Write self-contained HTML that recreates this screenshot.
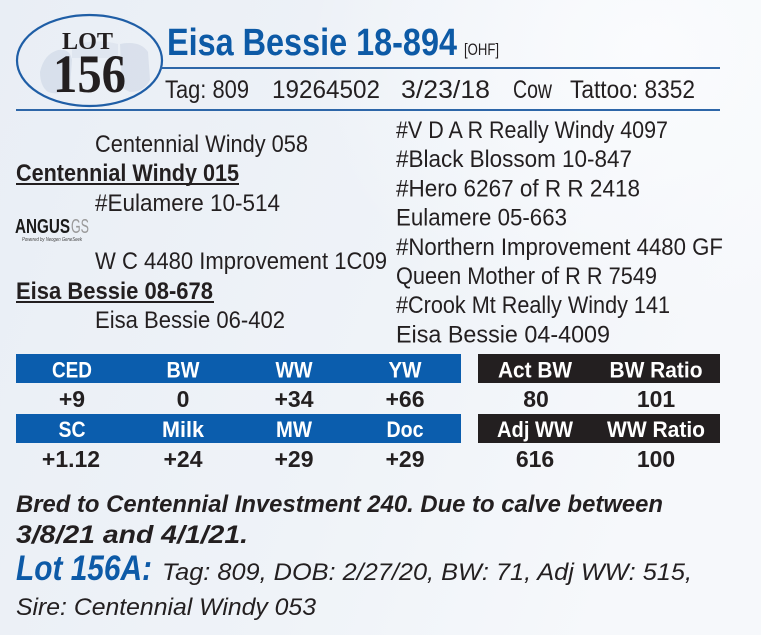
<!DOCTYPE html>
<html><head><meta charset="utf-8"><style>
html,body{margin:0;padding:0;width:761px;height:635px;overflow:hidden;background:#eef2f7}
svg{display:block}
</style></head><body>
<svg width="761" height="635" viewBox="0 0 761 635" xmlns="http://www.w3.org/2000/svg">
<defs>
<linearGradient id="bg" x1="0" y1="0" x2="1" y2="0.3">
<stop offset="0" stop-color="#e9eef5"/>
<stop offset="0.6" stop-color="#eff3f8"/>
<stop offset="1" stop-color="#f6f8fb"/>
</linearGradient>
<radialGradient id="glow" cx="0.85" cy="0.08" r="0.45">
<stop offset="0" stop-color="#fbfcfe" stop-opacity="0.9"/>
<stop offset="1" stop-color="#fbfcfe" stop-opacity="0"/>
</radialGradient>
</defs>
<rect width="761" height="635" fill="url(#bg)"/>
<rect width="761" height="635" fill="url(#glow)"/>

<!-- Oval with faint illustration -->
<g fill="#b9c6da" opacity="0.35">
<path d="M40 72 Q44 54 58 50 Q70 48 72 60 L70 88 Q60 96 48 92 Q40 86 40 72Z"/>
<path d="M120 44 Q140 40 148 52 L150 80 Q144 92 130 92 L122 88Z"/>
<path d="M72 46 Q95 38 118 44 L118 58 L72 58Z" opacity="0.6"/>
</g>
<ellipse cx="89.5" cy="60.5" rx="72.5" ry="45.5" fill="none" stroke="#1f5ea6" stroke-width="2.2"/>
<g font-family="'Liberation Serif', serif" font-weight="bold" fill="#231f20">
<text x="62" y="49" font-size="24" textLength="51" lengthAdjust="spacingAndGlyphs">LOT</text>
<text x="53" y="92" font-size="54" textLength="73" lengthAdjust="spacingAndGlyphs">156</text>
</g>

<g font-family="'Liberation Sans', sans-serif">
<text x="167" y="55" font-size="38" font-weight="bold" fill="#0d5aa6" textLength="290" lengthAdjust="spacingAndGlyphs">Eisa Bessie 18-894</text>
<text x="464" y="55" font-size="17" fill="#231f20" textLength="35" lengthAdjust="spacingAndGlyphs">[OHF]</text>
</g>
<line x1="160" y1="68" x2="720" y2="68" stroke="#2d66a8" stroke-width="2"/>
<g font-family="'Liberation Sans', sans-serif" font-size="25" fill="#231f20">
<text x="165" y="98" textLength="84" lengthAdjust="spacingAndGlyphs">Tag: 809</text>
<text x="272" y="98" textLength="108" lengthAdjust="spacingAndGlyphs">19264502</text>
<text x="401" y="98" textLength="89" lengthAdjust="spacingAndGlyphs">3/23/18</text>
<text x="513" y="98" textLength="39" lengthAdjust="spacingAndGlyphs">Cow</text>
<text x="570" y="98" textLength="125" lengthAdjust="spacingAndGlyphs">Tattoo: 8352</text>
</g>
<line x1="16" y1="110" x2="720" y2="110" stroke="#2d66a8" stroke-width="2"/>

<!-- Pedigree -->
<g font-family="'Liberation Sans', sans-serif" font-size="24.5" fill="#231f20">
<text x="95" y="152" textLength="213" lengthAdjust="spacingAndGlyphs">Centennial Windy 058</text>
<text x="95" y="211" textLength="185" lengthAdjust="spacingAndGlyphs">#Eulamere 10-514</text>
<text x="95" y="269" textLength="292" lengthAdjust="spacingAndGlyphs">W C 4480 Improvement 1C09</text>
<text x="95" y="328" textLength="190" lengthAdjust="spacingAndGlyphs">Eisa Bessie 06-402</text>

<text x="396" y="138" textLength="272" lengthAdjust="spacingAndGlyphs">#V D A R Really Windy 4097</text>
<text x="396" y="167.2" textLength="236" lengthAdjust="spacingAndGlyphs">#Black Blossom 10-847</text>
<text x="396" y="196.4" textLength="244" lengthAdjust="spacingAndGlyphs">#Hero 6267 of R R 2418</text>
<text x="396" y="225.6" textLength="171" lengthAdjust="spacingAndGlyphs">Eulamere 05-663</text>
<text x="396" y="254.8" textLength="327" lengthAdjust="spacingAndGlyphs">#Northern Improvement 4480 GF</text>
<text x="396" y="284" textLength="261" lengthAdjust="spacingAndGlyphs">Queen Mother of R R 7549</text>
<text x="396" y="313.2" textLength="274" lengthAdjust="spacingAndGlyphs">#Crook Mt Really Windy 141</text>
<text x="396" y="342.4" textLength="214" lengthAdjust="spacingAndGlyphs">Eisa Bessie 04-4009</text>

<text x="16" y="181" font-weight="bold" textLength="223" lengthAdjust="spacingAndGlyphs">Centennial Windy 015</text>
<text x="16" y="299" font-weight="bold" textLength="197" lengthAdjust="spacingAndGlyphs">Eisa Bessie 08-678</text>
</g>
<rect x="16" y="183" width="223" height="2" fill="#231f20"/>
<rect x="16" y="301" width="198" height="2" fill="#231f20"/>

<!-- ANGUS GS logo -->
<g font-family="'Liberation Sans', sans-serif">
<text x="15" y="233" font-size="20" font-weight="bold" fill="#1a1a1a" textLength="55" lengthAdjust="spacingAndGlyphs">ANGUS</text>
<text x="71" y="233" font-size="20" fill="#9a9a9a" textLength="18" lengthAdjust="spacingAndGlyphs">GS</text>
<text x="22" y="241" font-size="5.5" font-style="italic" fill="#444" textLength="60" lengthAdjust="spacingAndGlyphs">Powered by Neogen GeneSeek</text>
</g>

<!-- Table -->
<rect x="16" y="354" width="445" height="29" fill="#0b5dad"/>
<rect x="16" y="414" width="445" height="29" fill="#0b5dad"/>
<rect x="478" y="354" width="242" height="29" fill="#231f20"/>
<rect x="478" y="414" width="242" height="29" fill="#231f20"/>
<g font-family="'Liberation Sans', sans-serif" font-size="22.5" font-weight="bold" fill="#ffffff" text-anchor="middle">
<text x="72" y="377.5" textLength="40" lengthAdjust="spacingAndGlyphs">CED</text>
<text x="183" y="377.5" textLength="33" lengthAdjust="spacingAndGlyphs">BW</text>
<text x="294" y="377.5" textLength="37" lengthAdjust="spacingAndGlyphs">WW</text>
<text x="405" y="377.5" textLength="33" lengthAdjust="spacingAndGlyphs">YW</text>
<text x="535" y="377.5" textLength="74" lengthAdjust="spacingAndGlyphs">Act BW</text>
<text x="656" y="377.5" textLength="93" lengthAdjust="spacingAndGlyphs">BW Ratio</text>
<text x="72" y="437" textLength="27" lengthAdjust="spacingAndGlyphs">SC</text>
<text x="183" y="437" textLength="42" lengthAdjust="spacingAndGlyphs">Milk</text>
<text x="294" y="437" textLength="36" lengthAdjust="spacingAndGlyphs">MW</text>
<text x="405" y="437" textLength="37" lengthAdjust="spacingAndGlyphs">Doc</text>
<text x="535" y="437" textLength="76" lengthAdjust="spacingAndGlyphs">Adj WW</text>
<text x="656" y="437" textLength="98" lengthAdjust="spacingAndGlyphs">WW Ratio</text>
</g>
<g font-family="'Liberation Sans', sans-serif" font-size="23" font-weight="bold" fill="#231f20" text-anchor="middle">
<text x="72" y="407">+9</text>
<text x="183" y="407">0</text>
<text x="294" y="407">+34</text>
<text x="405" y="407">+66</text>
<text x="536" y="407">80</text>
<text x="656" y="407">101</text>
<text x="71" y="467">+1.12</text>
<text x="183" y="467">+24</text>
<text x="294" y="467">+29</text>
<text x="405" y="467">+29</text>
<text x="535" y="467">616</text>
<text x="656" y="467">100</text>
</g>

<!-- Bottom notes -->
<g font-family="'Liberation Sans', sans-serif" fill="#231f20">
<text x="16" y="512" font-size="24" font-weight="bold" font-style="italic" textLength="647" lengthAdjust="spacingAndGlyphs">Bred to Centennial Investment 240. Due to calve between</text>
<text x="16" y="543" font-size="25" font-weight="bold" font-style="italic" textLength="232" lengthAdjust="spacingAndGlyphs">3/8/21 and 4/1/21.</text>
<text x="16" y="580" font-size="35" font-weight="bold" font-style="italic" fill="#0d5aa7" textLength="136" lengthAdjust="spacingAndGlyphs">Lot 156A:</text>
<text x="162" y="580" font-size="24" font-style="italic" textLength="530" lengthAdjust="spacingAndGlyphs">Tag: 809, DOB: 2/27/20, BW: 71, Adj WW: 515,</text>
<text x="16" y="615" font-size="24" font-style="italic" textLength="300" lengthAdjust="spacingAndGlyphs">Sire: Centennial Windy 053</text>
</g>
</svg>
</body></html>
